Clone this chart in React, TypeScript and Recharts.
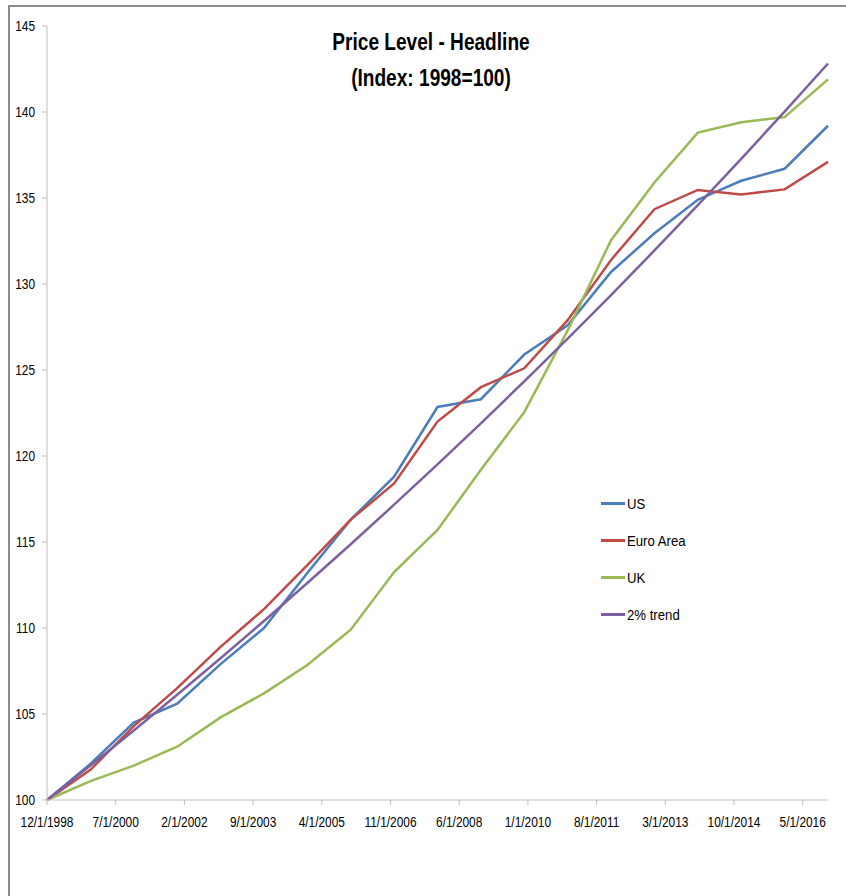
import React from 'react';
import { LineChart, Line, XAxis, YAxis } from 'recharts';

const dates = ['12/1/1998','12/1/1999','12/1/2000','12/1/2001','12/1/2002','12/1/2003','12/1/2004','12/1/2005','12/1/2006','12/1/2007','12/1/2008','12/1/2009','12/1/2010','12/1/2011','12/1/2012','12/1/2013','12/1/2014','12/1/2015','12/1/2016'];
const us = [100, 102.1, 104.5, 105.6, 107.9, 110.0, 113.2, 116.3, 118.8, 122.85, 123.3, 125.9, 127.6, 130.7, 132.95, 134.9, 136.0, 136.7, 139.2];
const euro = [100, 101.75, 104.3, 106.5, 108.9, 111.1, 113.65, 116.3, 118.4, 122.0, 124.0, 125.1, 127.9, 131.4, 134.35, 135.47, 135.2, 135.5, 137.1];
const uk = [100, 101.1, 102.0, 103.1, 104.8, 106.2, 107.85, 109.9, 113.25, 115.7, 119.2, 122.55, 127.3, 132.55, 135.9, 138.8, 139.4, 139.7, 141.9];
const trend = [100, 102.0, 104.04, 106.12, 108.24, 110.41, 112.62, 114.87, 117.17, 119.51, 121.9, 124.34, 126.82, 129.36, 131.95, 134.59, 137.28, 140.02, 142.82];

const xTickLabels = ['12/1/1998','7/1/2000','2/1/2002','9/1/2003','4/1/2005','11/1/2006','6/1/2008','1/1/2010','8/1/2011','3/1/2013','10/1/2014','5/1/2016'];
const yTicks = [100, 105, 110, 115, 120, 125, 130, 135, 140, 145];

const seriesNames = ['US', 'Euro Area', 'UK', '2% trend'];
const seriesColors = ['#4A7EBB', '#BE4B48', '#98B954', '#7D60A0'];

const monthsFrom1998 = (d: string) => {
  const [m, , y] = d.split('/').map(Number);
  return (y - 1998) * 12 + (m - 12);
};

const data = dates.map((d, i) => ({
  x: monthsFrom1998(d),
  us: us[i],
  euro: euro[i],
  uk: uk[i],
  trend: trend[i],
}));

const xTicks = xTickLabels.map(monthsFrom1998);
const labelFor = (v: number) => {
  const i = xTicks.indexOf(v);
  return i >= 0 ? xTickLabels[i] : '';
};

const FONT = '"Liberation Sans", Arial, sans-serif';

const XTick = (props: any) => {
  const { x, y, payload } = props;
  return (
    <g transform={`translate(${x},${y}) scale(0.85,1)`}>
      <text x={0} y={0} dy="0.71em" textAnchor="middle" fontSize={14} fontFamily={FONT} fill="#000">
        {labelFor(payload.value)}
      </text>
    </g>
  );
};

const YTick = (props: any) => {
  const { x, y, payload } = props;
  return (
    <g transform={`translate(${x},${y}) scale(0.85,1)`}>
      <text x={0} y={0} dy="0.355em" textAnchor="end" fontSize={14} fontFamily={FONT} fill="#000">
        {payload.value}
      </text>
    </g>
  );
};

export default function App() {
  return (
    <div style={{ position: 'absolute', left: 0, top: 0, width: 846, height: 896, background: '#fff', overflow: 'hidden' }}>
      <div style={{ position: 'absolute', left: 8, top: 5, width: 900, height: 900, borderTop: '2px solid #8c8c8c', borderLeft: '2px solid #8c8c8c', boxSizing: 'border-box' }} />
      <LineChart
        width={846}
        height={896}
        data={data}
        margin={{ top: 26, right: 18, bottom: 66, left: 0 }}
        style={{ position: 'absolute', left: 0, top: 0 }}
      >
        <XAxis
          dataKey="x"
          type="number"
          domain={[0, 216]}
          ticks={xTicks}
          height={30}
          stroke="#BFBFBF"
          tickSize={5}
          tickMargin={12}
          tick={<XTick />}
          interval={0}
        />
        <YAxis
          type="number"
          domain={[100, 145]}
          ticks={yTicks}
          width={47}
          stroke="#BFBFBF"
          tickSize={5}
          tickMargin={7}
          tick={<YTick />}
          interval={0}
        />
        <Line dataKey="us" name={seriesNames[0]} stroke={seriesColors[0]} strokeWidth={2.5} dot={false} isAnimationActive={false} />
        <Line dataKey="euro" name={seriesNames[1]} stroke={seriesColors[1]} strokeWidth={2.5} dot={false} isAnimationActive={false} />
        <Line dataKey="uk" name={seriesNames[2]} stroke={seriesColors[2]} strokeWidth={2.5} dot={false} isAnimationActive={false} />
        <Line dataKey="trend" name={seriesNames[3]} stroke={seriesColors[3]} strokeWidth={2.5} dot={false} isAnimationActive={false} />
      </LineChart>
      <div style={{ position: 'absolute', left: 0, top: 24, width: 862, textAlign: 'center', fontFamily: FONT, fontWeight: 'bold', fontSize: 23, lineHeight: '36px', color: '#000', transform: 'scaleX(0.83)', transformOrigin: '431px 0' }}>
        <div>Price Level - Headline</div>
        <div>(Index: 1998=100)</div>
      </div>
      <div style={{ position: 'absolute', left: 601, top: 485, fontFamily: FONT, fontSize: 15.5, color: '#000' }}>
        {seriesNames.map((n, i) => (
          <div key={n} style={{ display: 'flex', alignItems: 'center', height: 37 }}>
            <div style={{ width: 24, height: 3, background: seriesColors[i], marginRight: 2 }} />
            <span style={{ display: 'inline-block', transform: 'scaleX(0.85)', transformOrigin: '0 50%' }}>{n}</span>
          </div>
        ))}
      </div>
    </div>
  );
}
